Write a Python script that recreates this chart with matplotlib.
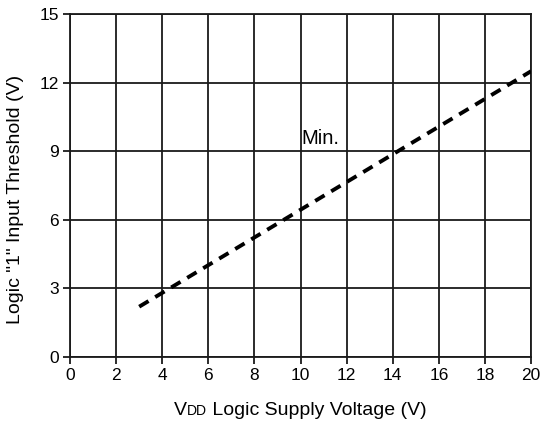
import numpy as np
import matplotlib.pyplot as plt

plt.rcParams['font.family'] = ['Liberation Sans', 'DejaVu Sans']

# data
vdd = [3, 20]
threshold_min = [2.2, 12.5]
x_ticks = list(range(0, 21, 2))
y_ticks = [0, 3, 6, 9, 12, 15]

fig = plt.figure(figsize=(5.43, 4.26), dpi=100)
ax = fig.add_axes([0.129, 0.162, 0.849, 0.805])

ax.plot(vdd, threshold_min, color='black', linewidth=2.8,
        linestyle=(0, (2.8, 2.0)), zorder=3)
ax.text(10.05, 9.3, 'Min.', fontsize=14.5, ha='left', va='baseline')

ax.set_xlim(0, 20)
ax.set_ylim(0, 15)
ax.set_xticks(x_ticks)
ax.set_yticks(y_ticks)
ax.grid(True, color='#1a1a1a', linewidth=1.3)
ax.set_axisbelow(True)
for s in ax.spines.values():
    s.set_color('#1a1a1a')
    s.set_linewidth(1.3)
ax.tick_params(axis='both', length=5, width=1.3, color='#1a1a1a',
               labelsize=12.5, pad=3)

# y label, a bit below the axes centre like the reference
fig.text(0.028, 0.532, 'Logic "1" Input Threshold (V)', fontsize=14,
         rotation=90, ha='center', va='center')

# x label with small-caps "DD": V + DD + rest, centred as a whole
r = fig.canvas.get_renderer()
base_y = 0.025
parts = [('V', 14), ('DD', 10), (' Logic Supply Voltage (V)', 14)]
texts = []
x = 0.0
for s, fs in parts:
    t = fig.text(x, base_y, s, fontsize=fs, ha='left', va='baseline')
    w = t.get_window_extent(r).width / fig.bbox.width
    texts.append((t, x))
    x += w
start = 0.553 - x / 2
for t, off in texts:
    t.set_x(start + off)

fig.savefig('out.png', dpi=100)
